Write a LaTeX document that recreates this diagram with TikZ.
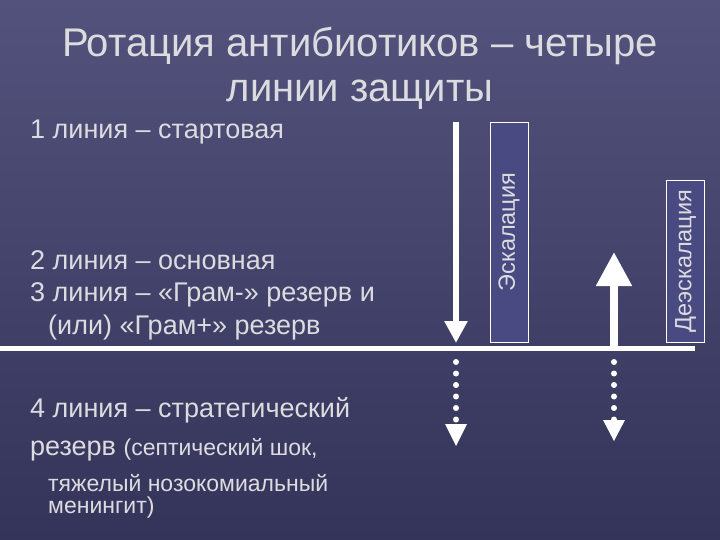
\documentclass[tikz,border=0pt]{standalone}
\usepackage{fontspec}
\setmainfont{Liberation Sans}
\usetikzlibrary{arrows.meta}
\definecolor{bgtop}{HTML}{52527C}
\definecolor{bgbot}{HTML}{34345A}
\definecolor{txt}{HTML}{DCDCE0}
\definecolor{boxfill}{HTML}{4A4A82}
\begin{document}
\begin{tikzpicture}[x=1pt,y=-1pt,
  body/.style={anchor=west,text=txt,font=\fontsize{27}{30}\selectfont,inner sep=0pt},
  small/.style={anchor=west,text=txt,font=\fontsize{23}{26}\selectfont,inner sep=0pt},
  lbl/.style={draw=white,line width=0.8pt,fill=boxfill,text=txt,font=\fontsize{23.5}{26}\selectfont,rotate=90,inner sep=0pt,minimum height=38pt},
  wline/.style={white,line width=5pt},
  dots/.style={white,line width=6pt,line cap=round,dash pattern=on 0pt off 11.5pt}]
\useasboundingbox (0,0) rectangle (720,540);
\shade[top color=bgtop,bottom color=bgbot] (0,0) rectangle (720,540);
\node[text=txt,font=\fontsize{40}{45}\selectfont,align=center] (title) at (360,68) {Ротация антибиотиков – четыре\\линии защиты};
\node[body] (l1) at (30,132) {1 линия – стартовая};
\node[body] (l2) at (30,260) {2 линия – основная};
\node[body] (l3) at (30,295) {3 линия – «Грам-» резерв и};
\node[body] (l3b) at (48,328) {(или) «Грам+» резерв};
\node[body] (l4) at (30,410) {4 линия – стратегический};
\node[body] (l4b) at (30,450) {резерв \fontsize{23}{26}\selectfont(септический шок,};
\node[small] (l4c) at (48,483) {тяжелый нозокомиальный};
\node[small] (l4d) at (48,508) {менингит)};
\node[lbl,minimum width=220pt] (esc) at (509,232) {Эскалация};
\node[lbl,minimum width=162pt] (desc) at (685.5,261) {Деэскалация};
\coordinate (hl) at (0,348); \coordinate (hr) at (695,348);
\draw[wline] (hl) -- (hr);
\coordinate (a1s) at (456,122); \coordinate (a1e) at (456,343);
\draw[white,line width=6pt,-{Triangle[width=22pt,length=22pt]}] (a1s) -- (a1e);
\coordinate (a2s) at (614,346); \coordinate (a2e) at (614,252);
\draw[white,line width=8pt,-{Triangle[width=34pt,length=34pt]}] (a2s) -- (a2e);
\coordinate (d1s) at (456,362); \coordinate (d1e) at (456,420);
\draw[dots] (d1s) -- (d1e);
\fill[white] (445,424) -- (467,424) -- (456,446) -- cycle;
\coordinate (d2s) at (614,362); \coordinate (d2e) at (614,420);
\draw[dots] (d2s) -- (d2e);
\fill[white] (603,420) -- (625,420) -- (614,441) -- cycle;
\end{tikzpicture}
\end{document}
